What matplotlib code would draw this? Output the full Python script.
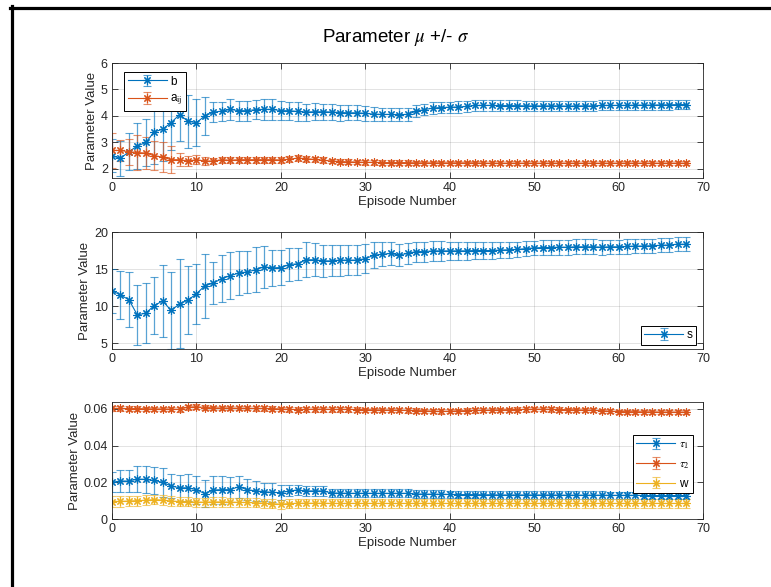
import matplotlib
matplotlib.use('Agg')
import matplotlib.pyplot as plt
from matplotlib.lines import Line2D

# episode index 0..68
episodes = list(range(69))

b_mean = [2.50, 2.40, 2.65, 2.87, 3.00, 3.40, 3.50, 3.75, 4.05, 3.80,
          3.75, 4.00, 4.15, 4.18, 4.25, 4.20, 4.20, 4.24, 4.25, 4.25,
          4.20, 4.20, 4.17, 4.15, 4.16, 4.16, 4.15, 4.13, 4.12, 4.12,
          4.10, 4.07, 4.06, 4.06, 4.05, 4.06, 4.18, 4.24, 4.30, 4.32,
          4.33, 4.34, 4.36, 4.40, 4.40, 4.40, 4.39, 4.39, 4.39, 4.38,
          4.38, 4.38, 4.38, 4.38, 4.37, 4.38, 4.38, 4.38, 4.40, 4.40,
          4.40, 4.40, 4.41, 4.41, 4.41, 4.42, 4.42, 4.43, 4.43]
b_std = [0.62, 0.65, 0.70, 0.87, 0.90, 1.20, 1.20, 1.05, 1.00, 1.00,
         0.90, 0.70, 0.38, 0.36, 0.40, 0.38, 0.38, 0.36, 0.40, 0.40,
         0.36, 0.34, 0.34, 0.32, 0.32, 0.30, 0.30, 0.30, 0.28, 0.28,
         0.27, 0.26, 0.26, 0.25, 0.25, 0.25, 0.22, 0.22, 0.21, 0.21,
         0.21, 0.21, 0.21, 0.21, 0.21, 0.21, 0.20, 0.20, 0.20, 0.20,
         0.20, 0.20, 0.20, 0.20, 0.20, 0.20, 0.20, 0.19, 0.19, 0.19,
         0.19, 0.19, 0.19, 0.19, 0.18, 0.18, 0.18, 0.18, 0.18]

a_mean = [2.70, 2.70, 2.65, 2.62, 2.60, 2.50, 2.45, 2.35, 2.35, 2.30,
          2.35, 2.30, 2.30, 2.35, 2.33, 2.35, 2.35, 2.35, 2.35, 2.35,
          2.34, 2.37, 2.41, 2.39, 2.36, 2.33, 2.30, 2.28, 2.27, 2.26,
          2.25, 2.25, 2.24, 2.24, 2.24, 2.24, 2.23, 2.23, 2.23, 2.23,
          2.23, 2.23, 2.23, 2.23, 2.22, 2.22, 2.22, 2.22, 2.22, 2.22,
          2.22, 2.22, 2.22, 2.22, 2.22, 2.22, 2.22, 2.22, 2.22, 2.22,
          2.22, 2.22, 2.22, 2.22, 2.22, 2.22, 2.22, 2.22, 2.22]
a_std = [0.65, 0.40, 0.50, 0.65, 0.60, 0.55, 0.55, 0.52, 0.25, 0.18,
         0.17, 0.14, 0.12, 0.12, 0.12, 0.12, 0.12, 0.12, 0.12, 0.12,
         0.12, 0.11, 0.11, 0.11, 0.11, 0.11, 0.09, 0.09, 0.09, 0.09,
         0.09, 0.09, 0.09, 0.09, 0.09, 0.09, 0.08, 0.08, 0.08, 0.08,
         0.07, 0.07, 0.07, 0.07, 0.07, 0.07, 0.07, 0.07, 0.07, 0.07,
         0.07, 0.07, 0.07, 0.07, 0.07, 0.07, 0.07, 0.07, 0.07, 0.07,
         0.07, 0.07, 0.07, 0.07, 0.07, 0.07, 0.07, 0.07, 0.07]

s_mean = [12.07, 11.50, 10.85, 8.80, 9.05, 10.05, 10.70, 9.40, 10.30, 10.80,
          11.65, 12.75, 13.10, 13.70, 14.10, 14.45, 14.60, 14.90, 15.30, 15.15,
          15.20, 15.60, 15.70, 16.25, 16.25, 16.10, 16.10, 16.20, 16.20, 16.20,
          16.40, 16.85, 17.00, 17.10, 16.90, 17.10, 17.35, 17.35, 17.45, 17.45,
          17.45, 17.45, 17.45, 17.50, 17.50, 17.50, 17.55, 17.60, 17.65, 17.75,
          17.85, 17.90, 17.90, 17.95, 17.95, 18.00, 18.00, 18.00, 17.95, 18.00,
          18.00, 18.05, 18.10, 18.10, 18.15, 18.20, 18.25, 18.35, 18.35]
s_std = [3.00, 3.20, 3.70, 4.00, 4.05, 3.85, 4.90, 5.20, 6.00, 4.60,
         4.05, 4.30, 2.80, 3.20, 3.15, 3.00, 2.80, 3.05, 2.85, 2.40,
         2.40, 2.20, 2.20, 2.35, 2.25, 2.20, 2.10, 2.10, 2.00, 2.00,
         1.95, 1.75, 1.60, 1.50, 1.45, 1.40, 1.35, 1.35, 1.30, 1.30,
         1.25, 1.25, 1.20, 1.20, 1.15, 1.15, 1.10, 1.10, 1.05, 1.05,
         1.00, 1.00, 1.00, 1.00, 1.00, 1.00, 1.00, 1.00, 1.00, 0.98,
         0.97, 0.96, 0.95, 0.95, 0.94, 0.93, 0.93, 0.92, 0.92]

tau1_mean = [0.0200, 0.0207, 0.0207, 0.0218, 0.0216, 0.0210, 0.0200, 0.0180, 0.0170, 0.0170,
             0.0160, 0.0138, 0.0158, 0.0160, 0.0160, 0.0176, 0.0160, 0.0153, 0.0149, 0.0145,
             0.0144, 0.0153, 0.0158, 0.0153, 0.0153, 0.0153, 0.0142, 0.0141, 0.0140, 0.0140,
             0.0140, 0.0140, 0.0140, 0.0140, 0.0140, 0.0140, 0.0136, 0.0136, 0.0135, 0.0135,
             0.0134, 0.0133, 0.0133, 0.0133, 0.0132, 0.0132, 0.0131, 0.0131, 0.0131, 0.0131,
             0.0131, 0.0131, 0.0131, 0.0130, 0.0130, 0.0130, 0.0130, 0.0130, 0.0130, 0.0129,
             0.0129, 0.0129, 0.0129, 0.0128, 0.0128, 0.0128, 0.0128, 0.0128, 0.0128]
tau1_std = [0.0054, 0.0058, 0.0060, 0.0070, 0.0075, 0.0075, 0.0078, 0.0065, 0.0072, 0.0073,
            0.0077, 0.0075, 0.0077, 0.0077, 0.0068, 0.0060, 0.0057, 0.0055, 0.0050, 0.0050,
            0.0040, 0.0030, 0.0028, 0.0027, 0.0026, 0.0025, 0.0022, 0.0022, 0.0022, 0.0022,
            0.0022, 0.0022, 0.0022, 0.0022, 0.0022, 0.0022, 0.0021, 0.0021, 0.0021, 0.0021,
            0.0021, 0.0021, 0.0021, 0.0021, 0.0021, 0.0021, 0.0021, 0.0021, 0.0021, 0.0021,
            0.0020, 0.0020, 0.0020, 0.0020, 0.0020, 0.0020, 0.0020, 0.0020, 0.0020, 0.0020,
            0.0020, 0.0020, 0.0020, 0.0020, 0.0020, 0.0020, 0.0020, 0.0020, 0.0020]

tau2_mean = [0.0603, 0.0603, 0.0602, 0.0602, 0.0601, 0.0600, 0.0600, 0.0599, 0.0598, 0.0610,
             0.0612, 0.0608, 0.0606, 0.0605, 0.0605, 0.0604, 0.0604, 0.0603, 0.0603, 0.0602,
             0.0600, 0.0598, 0.0597, 0.0598, 0.0599, 0.0599, 0.0598, 0.0598, 0.0598, 0.0597,
             0.0596, 0.0595, 0.0594, 0.0594, 0.0593, 0.0592, 0.0591, 0.0590, 0.0588, 0.0587,
             0.0588, 0.0590, 0.0591, 0.0592, 0.0593, 0.0594, 0.0595, 0.0596, 0.0597, 0.0598,
             0.0599, 0.0599, 0.0598, 0.0597, 0.0596, 0.0595, 0.0594, 0.0593, 0.0590, 0.0588,
             0.0586, 0.0585, 0.0585, 0.0584, 0.0584, 0.0583, 0.0583, 0.0583, 0.0583]
tau2_std = [0.0012, 0.0012, 0.0012, 0.0012, 0.0012, 0.0012, 0.0012, 0.0012, 0.0012, 0.0013,
            0.0013, 0.0013, 0.0012, 0.0012, 0.0012, 0.0012, 0.0012, 0.0012, 0.0012, 0.0012,
            0.0013, 0.0013, 0.0013, 0.0013, 0.0013, 0.0013, 0.0012, 0.0012, 0.0012, 0.0012,
            0.0012, 0.0012, 0.0012, 0.0012, 0.0012, 0.0012, 0.0012, 0.0012, 0.0012, 0.0012,
            0.0012, 0.0012, 0.0012, 0.0012, 0.0012, 0.0012, 0.0012, 0.0012, 0.0012, 0.0012,
            0.0012, 0.0012, 0.0012, 0.0012, 0.0012, 0.0012, 0.0012, 0.0012, 0.0011, 0.0011,
            0.0011, 0.0011, 0.0011, 0.0011, 0.0011, 0.0011, 0.0011, 0.0011, 0.0011]

w_mean = [0.0095, 0.0096, 0.0098, 0.0100, 0.0102, 0.0106, 0.0103, 0.0098, 0.0095, 0.0094,
          0.0092, 0.0092, 0.0093, 0.0093, 0.0092, 0.0091, 0.0090, 0.0088, 0.0086, 0.0083,
          0.0081, 0.0084, 0.0086, 0.0086, 0.0086, 0.0086, 0.0085, 0.0085, 0.0085, 0.0085,
          0.0085, 0.0085, 0.0085, 0.0085, 0.0085, 0.0085, 0.0085, 0.0085, 0.0085, 0.0085,
          0.0085, 0.0085, 0.0085, 0.0085, 0.0085, 0.0085, 0.0085, 0.0085, 0.0085, 0.0085,
          0.0085, 0.0085, 0.0085, 0.0085, 0.0085, 0.0085, 0.0085, 0.0085, 0.0085, 0.0085,
          0.0085, 0.0085, 0.0085, 0.0085, 0.0085, 0.0085, 0.0085, 0.0085, 0.0085]
w_std = [0.0028, 0.0028, 0.0027, 0.0027, 0.0027, 0.0026, 0.0026, 0.0026, 0.0025, 0.0025,
         0.0025, 0.0025, 0.0025, 0.0025, 0.0025, 0.0024, 0.0024, 0.0024, 0.0024, 0.0024,
         0.0024, 0.0024, 0.0024, 0.0024, 0.0024, 0.0024, 0.0024, 0.0024, 0.0024, 0.0024,
         0.0024, 0.0024, 0.0024, 0.0024, 0.0024, 0.0024, 0.0024, 0.0024, 0.0024, 0.0024,
         0.0024, 0.0024, 0.0024, 0.0024, 0.0024, 0.0024, 0.0024, 0.0024, 0.0024, 0.0024,
         0.0024, 0.0024, 0.0024, 0.0024, 0.0024, 0.0024, 0.0024, 0.0024, 0.0024, 0.0024,
         0.0024, 0.0024, 0.0024, 0.0024, 0.0024, 0.0024, 0.0024, 0.0024, 0.0024]

# MATLAB default colour order
C_BLUE = '#0072BD'
C_ORANGE = '#D95319'
C_YELLOW = '#EDB120'
AX_COLOR = '#262626'
# MATLAB '*' marker: eight-spoke asterisk
ASTERISK = (8, 2, 0)


def errbar(ax, mean, std, color, label):
    eb = ax.errorbar(episodes, mean, yerr=std, color=color, marker=ASTERISK, markersize=6,
                     markeredgewidth=0.8, linewidth=0.8, elinewidth=0.9, capsize=3,
                     capthick=0.9, label=label)
    for bar in eb[2]:
        bar.set_alpha(0.65)
    for cap in eb[1]:
        cap.set_alpha(0.65)
    return eb


def style_axes(ax, ylim, yticks, yticklabels=None):
    ax.set_xlim(0, 70)
    ax.set_ylim(*ylim)
    ax.set_xticks(range(0, 71, 10))
    ax.set_yticks(yticks)
    if yticklabels is not None:
        ax.set_yticklabels(yticklabels)
    ax.grid(True, color=AX_COLOR, alpha=0.15, linewidth=0.6)
    ax.set_axisbelow(True)
    ax.tick_params(direction='in', length=4, width=0.6, top=True, right=True,
                   colors=AX_COLOR, labelsize=9, pad=3)
    for sp in ax.spines.values():
        sp.set_color(AX_COLOR)
        sp.set_linewidth(0.6)
    ax.set_xlabel('Episode Number', fontsize=9.5, color=AX_COLOR, labelpad=1)
    ax.set_ylabel('Parameter Value', fontsize=9.5, color=AX_COLOR, labelpad=2)


def legend(ax, loc, anchor, spacing=0.3):
    lg = ax.legend(loc=loc, bbox_to_anchor=anchor, borderaxespad=0, fontsize=8.5,
                   fancybox=False, framealpha=1, edgecolor='black',
                   handlelength=3.3, handletextpad=0.3, borderpad=0.3, labelspacing=spacing)
    lg.get_frame().set_linewidth(0.7)


def main():
    plt.rcParams['font.family'] = ['Liberation Sans', 'DejaVu Sans']
    plt.rcParams['mathtext.fontset'] = 'stix'

    fig, axs = plt.subplots(3, 1, figsize=(7.71, 5.87), dpi=100)
    left, width = 112 / 771, 591 / 771
    axs[0].set_position([left, 1 - 178 / 587, width, 115 / 587])
    axs[1].set_position([left, 1 - 349 / 587, width, 117 / 587])
    axs[2].set_position([left, 1 - 519 / 587, width, 117 / 587])

    # panel 1: b and a_ij
    ax = axs[0]
    errbar(ax, b_mean, b_std, C_BLUE, 'b')
    errbar(ax, a_mean, a_std, C_ORANGE, r'a$_{\mathrm{ij}}$')
    style_axes(ax, (1.66, 6), [2, 3, 4, 5, 6])
    legend(ax, 'upper left', (12 / 591, 1 - 9 / 115), spacing=0.45)

    # panel 2: s
    ax = axs[1]
    errbar(ax, s_mean, s_std, C_BLUE, 's')
    style_axes(ax, (4.2, 20), [5, 10, 15, 20])
    legend(ax, 'lower right', (1 - 7 / 591, 4 / 117))

    # panel 3: tau1, tau2, w
    ax = axs[2]
    errbar(ax, tau1_mean, tau1_std, C_BLUE, r'$\tau_1$')
    errbar(ax, tau2_mean, tau2_std, C_ORANGE, r'$\tau_2$')
    errbar(ax, w_mean, w_std, C_YELLOW, 'w')
    style_axes(ax, (0, 0.0638), [0, 0.02, 0.04, 0.06], ['0', '0.02', '0.04', '0.06'])
    legend(ax, 'upper right', (1 - 10 / 591, 1 - 33 / 117), spacing=0.6)

    fig.text(396 / 771, 1 - 37 / 587, r'Parameter $\mu$ +/- $\sigma$', ha='center', va='center',
             fontsize=13.5, color='black')

    # black window frame at the top and left edges
    fig.add_artist(Line2D([11.5 / 771, 11.5 / 771], [0, 1 - 6 / 587], transform=fig.transFigure,
                          color='black', linewidth=2.3))
    fig.add_artist(Line2D([10 / 771, 1], [1 - 7.5 / 587, 1 - 7.5 / 587], transform=fig.transFigure,
                          color='black', linewidth=2.3))

    fig.savefig('out.png', dpi=100)


if __name__ == '__main__':
    main()
